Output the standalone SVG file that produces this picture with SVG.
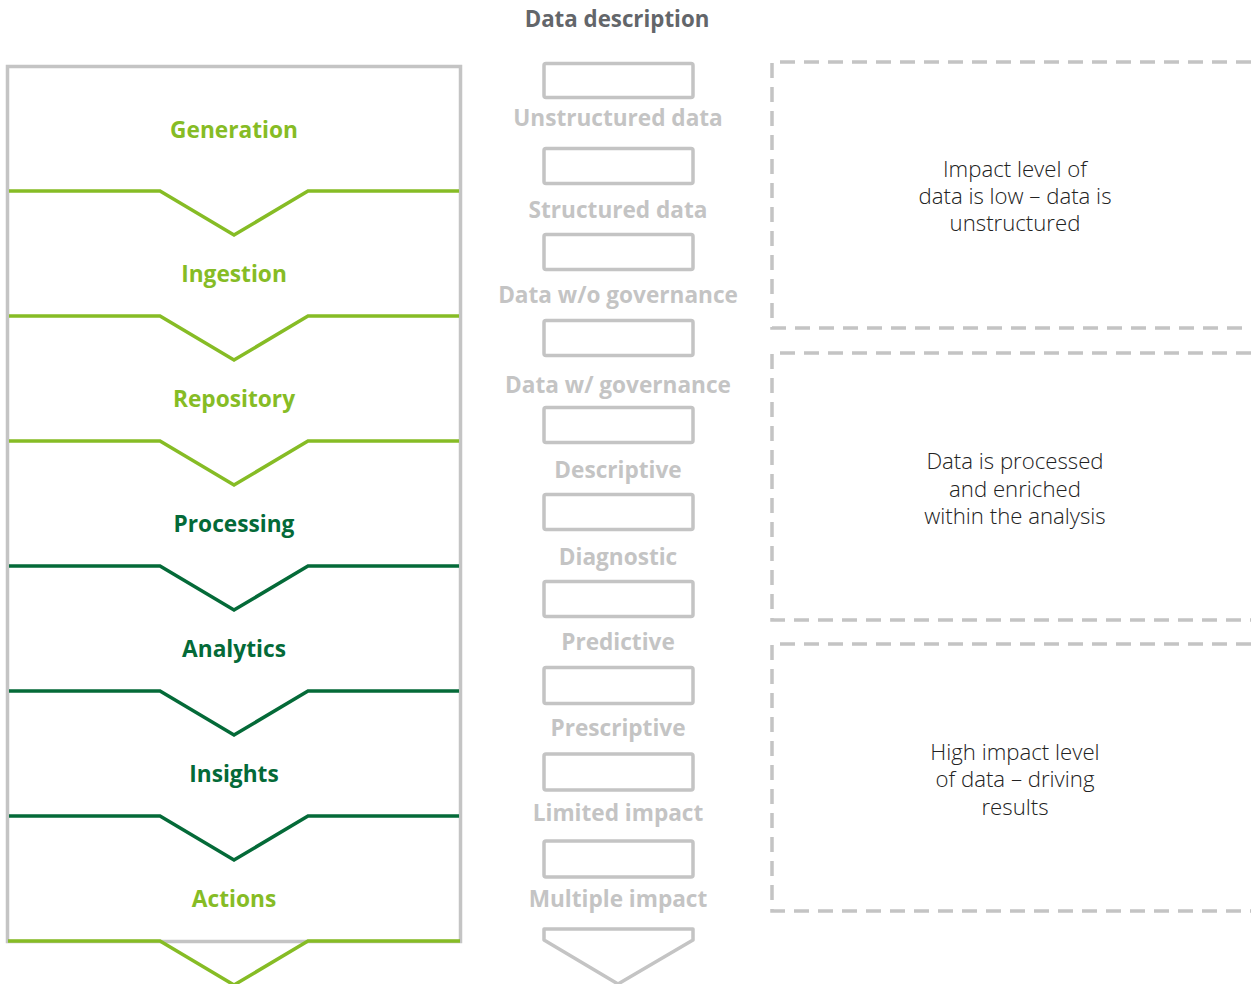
<svg xmlns="http://www.w3.org/2000/svg" width="1251" height="984" viewBox="0 0 1251 984">
<style>
.stage{font-family:"Open Sans","Liberation Sans",sans-serif;font-weight:700;font-size:22.7px;text-anchor:middle}
.lg{fill:#86bc25}
.dg{fill:#046a38}
.sepL{fill:none;stroke:#86bc25;stroke-width:3.5}
.sepD{fill:none;stroke:#046a38;stroke-width:3.5}
.box{fill:none;stroke:#c4c4c4;stroke-width:3.5;stroke-linejoin:round}
.dlabel{font-family:"Open Sans","Liberation Sans",sans-serif;font-weight:700;font-size:22.6px;fill:#c4c4c4;text-anchor:middle}
.title{font-family:"Open Sans","Liberation Sans",sans-serif;font-weight:700;font-size:22.3px;fill:#63666a;text-anchor:middle}
.dash{fill:none;stroke:#c4c4c4;stroke-width:3.5;stroke-dasharray:15 9}
.note{font-family:"Open Sans","Liberation Sans",sans-serif;font-weight:300;font-size:22.2px;fill:#222;text-anchor:middle}
</style>
<rect width="1251" height="984" fill="#fff"/>
<text class="title" x="617" y="27">Data description</text>

<g id="panel">
<rect x="7.5" y="66.5" width="453" height="875" fill="none" stroke="#c4c4c4" stroke-width="3.5"/>
</g>

<g id="connectors">
<path class="sepL" d="M9 191H160L234 235L308 191H459"/>
<path class="sepL" d="M9 316H160L234 360L308 316H459"/>
<path class="sepL" d="M9 441H160L234 485L308 441H459"/>
<path class="sepD" d="M9 566H160L234 610L308 566H459"/>
<path class="sepD" d="M9 691H160L234 735L308 691H459"/>
<path class="sepD" d="M9 816H160L234 860L308 816H459"/>
<path class="sepL" d="M8 941H160L234 985L308 941H460"/>
</g>

<g id="stage-generation"><text class="stage lg" x="234" y="138">Generation</text></g>
<g id="stage-ingestion"><text class="stage lg" x="234" y="282">Ingestion</text></g>
<g id="stage-repository"><text class="stage lg" x="234" y="407">Repository</text></g>
<g id="stage-processing"><text class="stage dg" x="234" y="532">Processing</text></g>
<g id="stage-analytics"><text class="stage dg" x="234" y="657">Analytics</text></g>
<g id="stage-insights"><text class="stage dg" x="234" y="782">Insights</text></g>
<g id="stage-actions"><text class="stage lg" x="234" y="907">Actions</text></g>

<g id="d-unstructured"><rect class="box" x="544" y="63.5" width="149" height="34" rx="2"/><text class="dlabel" x="618" y="126">Unstructured data</text></g>
<g id="d-structured"><rect class="box" x="544" y="148.5" width="149" height="35" rx="2"/><text class="dlabel" x="618" y="218">Structured data</text></g>
<g id="d-wo-governance"><rect class="box" x="544" y="234.5" width="149" height="35" rx="2"/><text class="dlabel" x="618" y="303">Data w/o governance</text></g>
<g id="d-w-governance"><rect class="box" x="544" y="320.5" width="149" height="35" rx="2"/><text class="dlabel" x="618" y="393">Data w/ governance</text></g>
<g id="d-descriptive"><rect class="box" x="544" y="407.5" width="149" height="35" rx="2"/><text class="dlabel" x="618" y="478">Descriptive</text></g>
<g id="d-diagnostic"><rect class="box" x="544" y="494.5" width="149" height="35" rx="2"/><text class="dlabel" x="618" y="565">Diagnostic</text></g>
<g id="d-predictive"><rect class="box" x="544" y="581.5" width="149" height="35" rx="2"/><text class="dlabel" x="618" y="650">Predictive</text></g>
<g id="d-prescriptive"><rect class="box" x="544" y="667.5" width="149" height="36" rx="2"/><text class="dlabel" x="618" y="736">Prescriptive</text></g>
<g id="d-limited"><rect class="box" x="544" y="754" width="149" height="36" rx="2"/><text class="dlabel" x="618" y="821">Limited impact</text></g>
<g id="d-multiple"><rect class="box" x="544" y="841" width="149" height="36" rx="2"/><text class="dlabel" x="618" y="907">Multiple impact</text></g>
<g id="d-arrow"><path class="box" d="M544 929H693V940L618 984L544 940Z"/></g>

<g id="note-low">
<path class="dash" d="M1251 62H772V328H1251"/>
<text class="note" x="1015" y="177">Impact level of</text>
<text class="note" x="1015" y="204">data is low – data is</text>
<text class="note" x="1015" y="231">unstructured</text>
</g>
<g id="note-processed">
<path class="dash" d="M1251 353H772V620H1251"/>
<text class="note" x="1015" y="469">Data is processed</text>
<text class="note" x="1015" y="497">and enriched</text>
<text class="note" x="1015" y="524">within the analysis</text>
</g>
<g id="note-high">
<path class="dash" d="M1251 644H772V911H1251"/>
<text class="note" x="1015" y="760">High impact level</text>
<text class="note" x="1015" y="787">of data – driving</text>
<text class="note" x="1015" y="815">results</text>
</g>
</svg>
